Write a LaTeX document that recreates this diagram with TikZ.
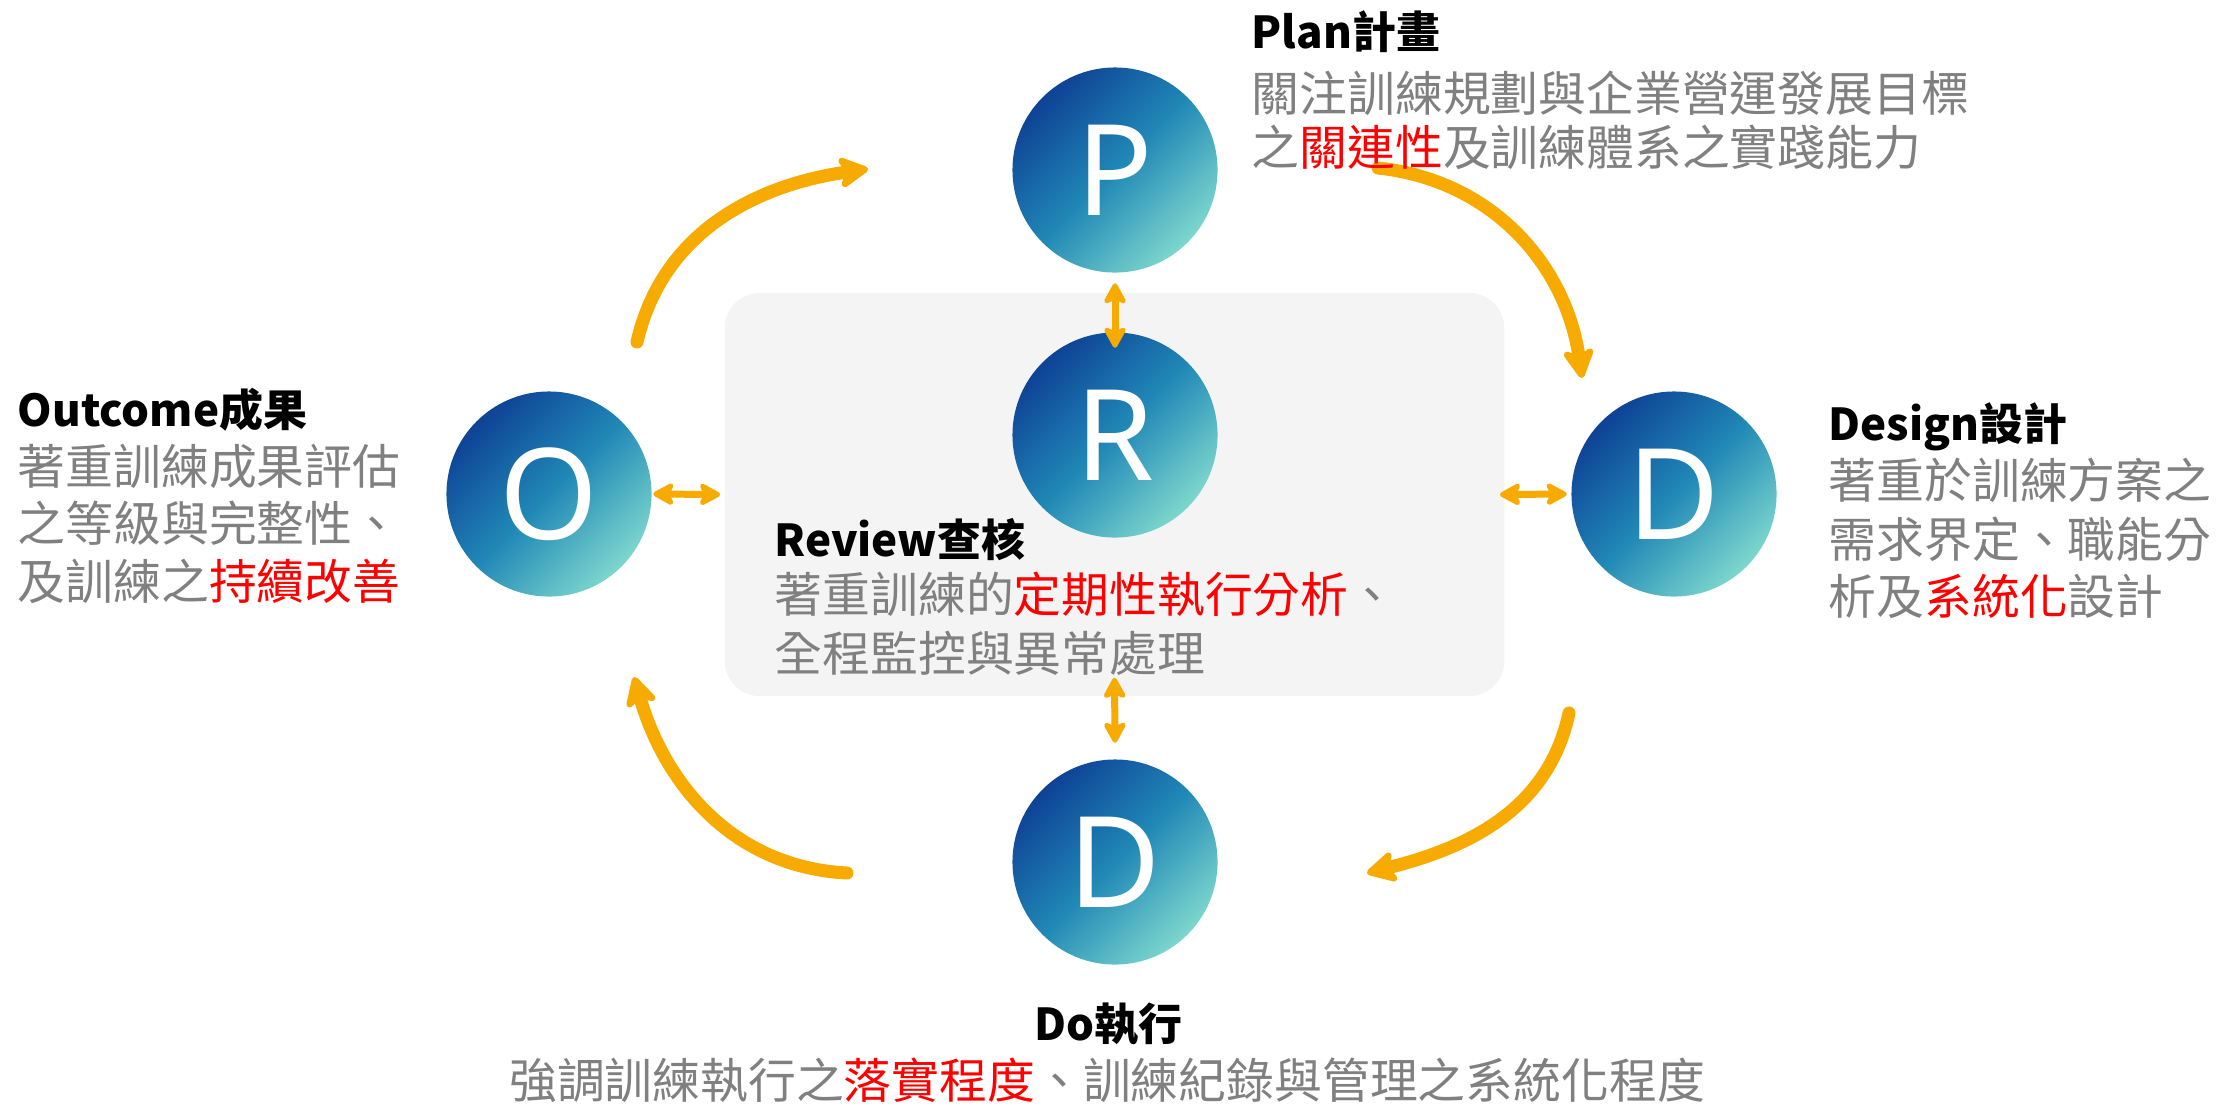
\documentclass[tikz,border=0pt]{standalone}
\usepackage{fontspec}
\setmainfont{Noto Sans CJK TC}
\newfontfamily\letterfont{Noto Sans}
\usetikzlibrary{arrows.meta,calc}
\definecolor{arrowc}{RGB}{247,171,0}
\definecolor{bodyc}{RGB}{128,128,128}
\definecolor{boxc}{RGB}{244,244,244}
\definecolor{hl}{RGB}{255,0,0}
\definecolor{cdark}{RGB}{14,66,150}
\definecolor{cmid}{RGB}{32,136,182}
\definecolor{clight}{RGB}{125,215,205}
\begin{document}
\begin{tikzpicture}[x=0.01cm,y=0.01cm,
  ball/.style={circle, minimum size=2.05cm, inner sep=0pt, top color=cdark, bottom color=clight, middle color=cmid, shading angle=45, text=white, font=\letterfont\fontsize{36}{36}\selectfont},
  bigarrow/.style={draw=arrowc, line width=0.13cm, line cap=round, -{Stealth[length=0.36cm,width=0.38cm,inset=0.1cm,round]}},
  smallarrow/.style={draw=arrowc, line width=0.07cm, {Stealth[length=0.25cm,width=0.27cm,inset=0.06cm,round]}-{Stealth[length=0.25cm,width=0.27cm,inset=0.06cm,round]}},
  ttl/.style={anchor=base west, inner sep=0pt, font=\bfseries\fontsize{12.5}{15}\selectfont},
  bdy/.style={anchor=base west, inner sep=0pt, text=bodyc, font=\fontsize{13.6}{16}\selectfont},
]
\useasboundingbox (0,0) rectangle (2234,-1105);
% review box
\node[fill=boxc, rounded corners=0.35cm, minimum width=7.79cm, minimum height=4.03cm, inner sep=0pt] (box) at (1114.5,-494.5) {};
% circles
\node[ball] (P) at (1115,-170) {P};
\node[ball] (R) at (1115,-435) {R};
\node[ball] (O) at (549,-494) {O};
\node[ball] (Dr) at (1674,-494) {D};
\node[ball] (Db) at (1115,-862) {D};
% small double arrows
\draw[smallarrow] ($(O.east)+(1,0)$) -- ($(box.west)+(-4,0)$);
\draw[smallarrow] ($(box.east)+(-5,0)$) -- ($(Dr.west)+(-4,0)$);
\draw[smallarrow] ($(P.south)+(0,-10)$) -- ($(R.north)+(0,-16)$);
\draw[smallarrow] ($(box.south)+(0,19)$) -- ($(Db.north)+(0,16)$);
% big cycle arrows
\coordinate (a1s) at (637,-342); \coordinate (a1e) at (868,-169);
\coordinate (a2s) at (1378,-168); \coordinate (a2e) at (1582,-378);
\coordinate (a3s) at (1569,-713); \coordinate (a3e) at (1367,-873);
\coordinate (a4s) at (847,-873); \coordinate (a4e) at (634,-677);
\draw[bigarrow] (a1s) to[out=77,in=188] (a1e);
\draw[bigarrow] (a2s) to[out=-6,in=98] (a2e);
\draw[bigarrow] (a3s) to[out=-102,in=14] (a3e);
\draw[bigarrow] (a4s) to[out=177,in=-74] (a4e);
% Plan
\node[ttl] (pt) at (1251,-48) {Plan計畫};
\node[bdy] (p1) at (1251,-111) {關注訓練規劃與企業營運發展目標};
\node[bdy] (p2) at (1251,-165) {之\textcolor{hl}{關連性}及訓練體系之實踐能力};
% Design
\node[ttl] (dt) at (1828,-440) {Design設計};
\node[bdy] (d1) at (1828,-498) {著重於訓練方案之};
\node[bdy] (d2) at (1828,-557) {需求界定、職能分};
\node[bdy] (d3) at (1828,-614) {析及\textcolor{hl}{系統化}設計};
% Outcome
\node[ttl] (ot) at (17,-426) {Outcome成果};
\node[bdy] (o1) at (17,-484) {著重訓練成果評估};
\node[bdy] (o2) at (17,-541) {之等級與完整性、};
\node[bdy] (o3) at (17,-599) {及訓練之\textcolor{hl}{持續改善}};
% Review
\node[ttl] (rt) at (774,-556) {Review查核};
\node[bdy] (r1) at (774,-612) {著重訓練的\textcolor{hl}{定期性執行分析}、};
\node[bdy] (r2) at (774,-671) {全程監控與異常處理};
% Do
\node[ttl, anchor=base] (bt) at (1108,-1040) {Do執行};
\node[bdy, anchor=base] (b1) at (1107,-1098) {強調訓練執行之\textcolor{hl}{落實程度}、訓練紀錄與管理之系統化程度};
\end{tikzpicture}
\end{document}
